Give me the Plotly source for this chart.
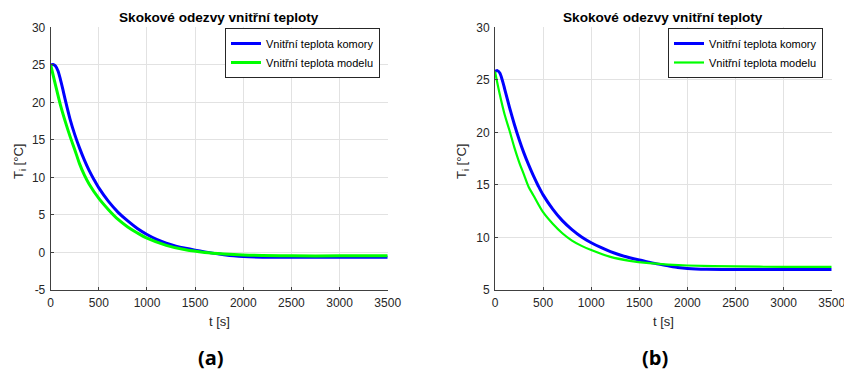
import plotly.graph_objects as go

# ---------------- data ----------------
# (a) left panel
t_a_komora = [0, 25, 50, 75, 100, 125, 150, 200, 250, 300, 350, 400, 450, 500, 600, 700,
              800, 900, 1000, 1100, 1200, 1300, 1400, 1500, 1600, 1700, 1800, 1900, 2000,
              2200, 2500, 3000, 3500]
T_a_komora = [25.0, 25.05, 24.85, 24.2, 23.1, 21.8, 20.4, 17.8, 15.7, 13.9, 12.3, 10.9, 9.7,
              8.6, 6.8, 5.35, 4.2, 3.2, 2.4, 1.75, 1.25, 0.85, 0.55, 0.3, 0.08, -0.12, -0.3,
              -0.45, -0.55, -0.63, -0.65, -0.65, -0.65]

t_a_model = [0, 50, 100, 150, 200, 250, 300, 350, 400, 500, 600, 700, 800, 900, 1000, 1200,
             1400, 1600, 1800, 2000, 2500, 3000, 3500]
T_a_model = [25.0, 22.3, 19.7, 17.5, 15.5, 13.7, 11.8, 10.3, 9.1, 7.2, 5.7, 4.4, 3.4, 2.6,
             1.9, 0.95, 0.35, 0.0, -0.2, -0.33, -0.45, -0.45, -0.45]

# (b) right panel
t_b_komora = [0, 25, 50, 75, 100, 150, 200, 250, 300, 350, 400, 450, 500, 600, 700, 800, 900,
              1000, 1100, 1200, 1300, 1400, 1500, 1600, 1700, 1800, 1900, 2000, 2200, 2500,
              3000, 3500]
T_b_komora = [25.8, 25.88, 25.65, 25.0, 24.15, 22.4, 20.8, 19.35, 18.05, 16.9, 15.85, 14.9,
              14.05, 12.7, 11.6, 10.75, 10.05, 9.5, 9.05, 8.65, 8.33, 8.07, 7.85, 7.65, 7.46,
              7.3, 7.15, 7.05, 6.97, 6.95, 6.95, 6.95]

t_b_model = [0, 50, 100, 150, 200, 250, 300, 350, 400, 500, 600, 700, 800, 900, 1000, 1200,
             1400, 1600, 1800, 2000, 2500, 3000, 3500]
T_b_model = [25.8, 23.6, 21.7, 20.2, 18.6, 17.2, 16.0, 14.8, 14.0, 12.4, 11.3, 10.4, 9.7, 9.2,
             8.8, 8.15, 7.78, 7.55, 7.42, 7.33, 7.24, 7.2, 7.2]

names = ["Vnitřní teplota komory", "Vnitřní teplota modelu"]
title_text = "Skokové odezvy vnitřní teploty"
x_ticks = [0, 500, 1000, 1500, 2000, 2500, 3000, 3500]
y_ticks_a = [-5, 0, 5, 10, 15, 20, 25, 30]
y_ticks_b = [5, 10, 15, 20, 25, 30]
panel_labels = ["(a)", "(b)"]

# ---------------- layout helpers ----------------
W, H = 844, 373
def px(x):
    return x / W
def py(y):
    return 1 - y / H

BLUE = "#0000ff"
GREEN = "#00ff00"
AXC = "#404040"
GRID = "#e2e2e2"
FONT = "Arial"

fig = go.Figure()

fig.add_trace(go.Scatter(x=t_a_komora, y=T_a_komora, mode="lines", name=names[0],
                         line=dict(color=BLUE, width=3, shape="spline", smoothing=0.8),
                         xaxis="x", yaxis="y", legend="legend"))
fig.add_trace(go.Scatter(x=t_a_model, y=T_a_model, mode="lines", name=names[1],
                         line=dict(color=GREEN, width=3, shape="spline", smoothing=0.8),
                         xaxis="x", yaxis="y", legend="legend"))
fig.add_trace(go.Scatter(x=t_b_komora, y=T_b_komora, mode="lines", name=names[0],
                         line=dict(color=BLUE, width=3, shape="spline", smoothing=0.8),
                         xaxis="x2", yaxis="y2", legend="legend2"))
fig.add_trace(go.Scatter(x=t_b_model, y=T_b_model, mode="lines", name=names[1],
                         line=dict(color=GREEN, width=2.2, shape="spline", smoothing=0.8),
                         xaxis="x2", yaxis="y2", legend="legend2"))

axis_common = dict(showgrid=True, gridcolor=GRID, gridwidth=1, zeroline=False,
                   showline=True, linecolor=AXC, linewidth=1, ticks="inside", ticklen=3,
                   tickcolor=AXC, tickfont=dict(family=FONT, size=12, color="#262626"),
                   mirror=False, automargin=False, ticklabeloverflow="allow")

fig.update_layout(
    template="none",
    width=W, height=H,
    margin=dict(l=0, r=0, t=0, b=0, autoexpand=False),
    paper_bgcolor="white", plot_bgcolor="white",
    font=dict(family=FONT, color="#262626"),
    xaxis=dict(domain=[px(50.7), px(387.7)], range=[0, 3500], tickvals=x_ticks,
               anchor="y", ticklabelstandoff=2, **axis_common),
    yaxis=dict(domain=[py(290), py(27.3)], range=[-5, 30], tickvals=y_ticks_a,
               ticktext=[str(v) for v in y_ticks_a],
               anchor="x", ticklabelstandoff=2, **axis_common),
    xaxis2=dict(domain=[px(495), px(831.7)], range=[0, 3500], tickvals=x_ticks,
                anchor="y2", ticklabelstandoff=2, **axis_common),
    yaxis2=dict(domain=[py(290), py(27.3)], range=[5, 30], tickvals=y_ticks_b,
                anchor="x2", ticklabelstandoff=2, **axis_common),
    legend=dict(x=px(380), y=py(28), xanchor="right", yanchor="top",
                bgcolor="white", bordercolor="#262626", borderwidth=1,
                font=dict(family=FONT, size=11, color="#000000"),
                itemwidth=30, tracegroupgap=0),
    legend2=dict(x=px(823), y=py(28), xanchor="right", yanchor="top",
                 bgcolor="white", bordercolor="#262626", borderwidth=1,
                 font=dict(family=FONT, size=11, color="#000000"),
                 itemwidth=30, tracegroupgap=0),
    showlegend=True,
)

ann = []
for cx in (219.2, 663.4):
    ann.append(dict(text="<b>" + title_text + "</b>", x=px(cx), y=py(17), xref="paper",
                    yref="paper", showarrow=False, xanchor="center", yanchor="middle",
                    font=dict(family=FONT, size=13.6, color="#000000")))
    ann.append(dict(text="t [s]", x=px(cx), y=py(321), xref="paper", yref="paper",
                    showarrow=False, xanchor="center", yanchor="middle",
                    font=dict(family=FONT, size=13, color="#262626")))
for lx in (19, 462):
    ann.append(dict(text="T<sub>i</sub> [°C]", x=px(lx), y=py(162), xref="paper",
                    yref="paper", showarrow=False, xanchor="center", yanchor="middle",
                    textangle=-90, font=dict(family=FONT, size=13, color="#262626")))
for cx, lab in zip((211, 654.5), panel_labels):
    ann.append(dict(text="<b>" + lab + "</b>", x=px(cx), y=py(357), xref="paper",
                    yref="paper", showarrow=False, xanchor="center", yanchor="middle",
                    font=dict(family="Open Sans", size=20, color="#000000")))
fig.update_layout(annotations=ann)

fig.write_html("out.html",
               config={"displayModeBar": False},
               post_script="document.body.style.margin='0px';"
                           "document.body.style.overflow='hidden';")
